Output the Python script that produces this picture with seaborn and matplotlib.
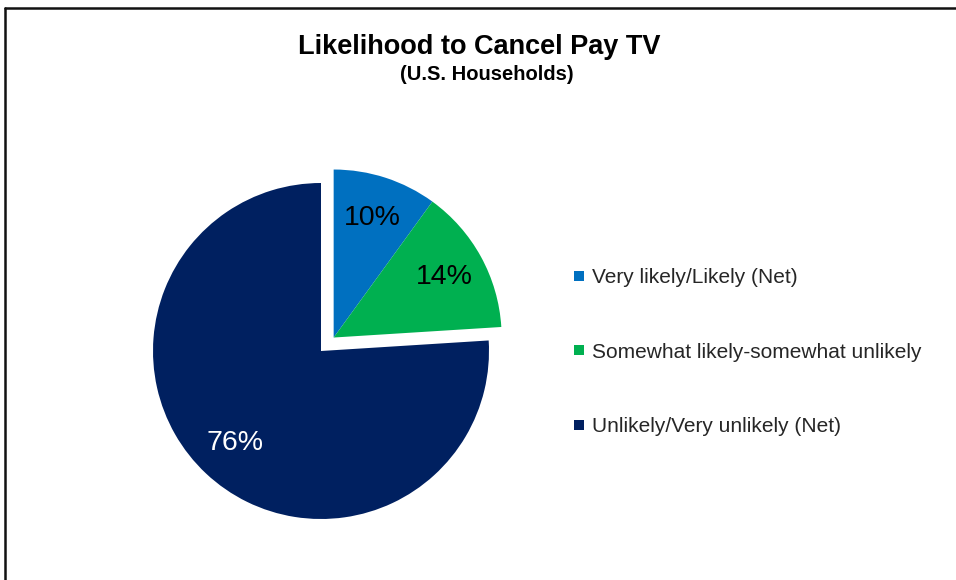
import numpy as np
import matplotlib
matplotlib.use("Agg")
import matplotlib.pyplot as plt
from matplotlib.lines import Line2D
import seaborn as sns

# Survey shares
categories = ["Very likely/Likely (Net)",
              "Somewhat likely-somewhat unlikely",
              "Unlikely/Very unlikely (Net)"]
shares = [10, 14, 76]
slice_colors = ["#0070C0", "#00B050", "#002060"]
label_colors = ["black", "black", "white"]
title = "Likelihood to Cancel Pay TV"
subtitle = "(U.S. Households)"

sns.set_theme(style="white")
plt.rcParams["font.family"] = ["Liberation Sans", "DejaVu Sans"]
palette = sns.color_palette(slice_colors)

W, H = 956, 580
fig = plt.figure(figsize=(W / 100, H / 100), dpi=100)
fig.patch.set_facecolor("white")

# pie axes: centre and radius in pixels
cx, cy, r = 321, 351, 168
half = 1.25 * r
ax = fig.add_axes([(cx - half) / W, (H - cy - half) / H, 2 * half / W, 2 * half / H])
ax.set_xlim(-1.25, 1.25)
ax.set_ylim(-1.25, 1.25)
ax.set_aspect("equal")
ax.axis("off")

wedges, texts, autotexts = ax.pie(
    shares, colors=palette, startangle=90, counterclock=False,
    autopct="%d%%", pctdistance=0.75, radius=1.0,
    wedgeprops=dict(linewidth=0),
    textprops=dict(fontsize=20.5),
)
for t, c in zip(autotexts, label_colors):
    t.set_color(c)

# pull the first two slices out together along their common bisector
pulled = 2
frac = sum(shares[:pulled]) / sum(shares)
mid = np.deg2rad(90 - 360 * frac / 2)
dist = 0.11
dx, dy = dist * np.cos(mid), dist * np.sin(mid)
for w, t in zip(wedges[:pulled], autotexts[:pulled]):
    w.set_center((dx, dy))
    x, y = t.get_position()
    t.set_position((x + dx, y + dy))
for w in wedges:
    w.set_clip_on(False)

# titles
fig.text(479 / W, 1 - 47 / H, title, ha="center", va="center",
         fontsize=19.5, fontweight="bold", color="black")
fig.text(487 / W, 1 - 75 / H, subtitle, ha="center", va="center",
         fontsize=14.5, fontweight="bold", color="black")

# legend
handles = [Line2D([0], [0], marker="s", linestyle="none", markersize=6.5,
                  markerfacecolor=c, markeredgewidth=0) for c in slice_colors]
leg = fig.legend(handles, categories, loc="center left",
                 bbox_to_anchor=(574 / W, 1 - 352 / H), frameon=False,
                 fontsize=15, labelspacing=2.67, handlelength=0.5,
                 handletextpad=0.35, borderaxespad=0, borderpad=0)
for t in leg.get_texts():
    t.set_color("#262626")

# frame lines along the top and left
fig.add_artist(Line2D([5 / W, 1], [1 - 8 / H, 1 - 8 / H], color="#111111",
                      linewidth=1.8, transform=fig.transFigure))
fig.add_artist(Line2D([5 / W, 5 / W], [0, 1 - 8 / H], color="#111111",
                      linewidth=1.8, transform=fig.transFigure))

fig.savefig("out.png", dpi=100, facecolor="white")
